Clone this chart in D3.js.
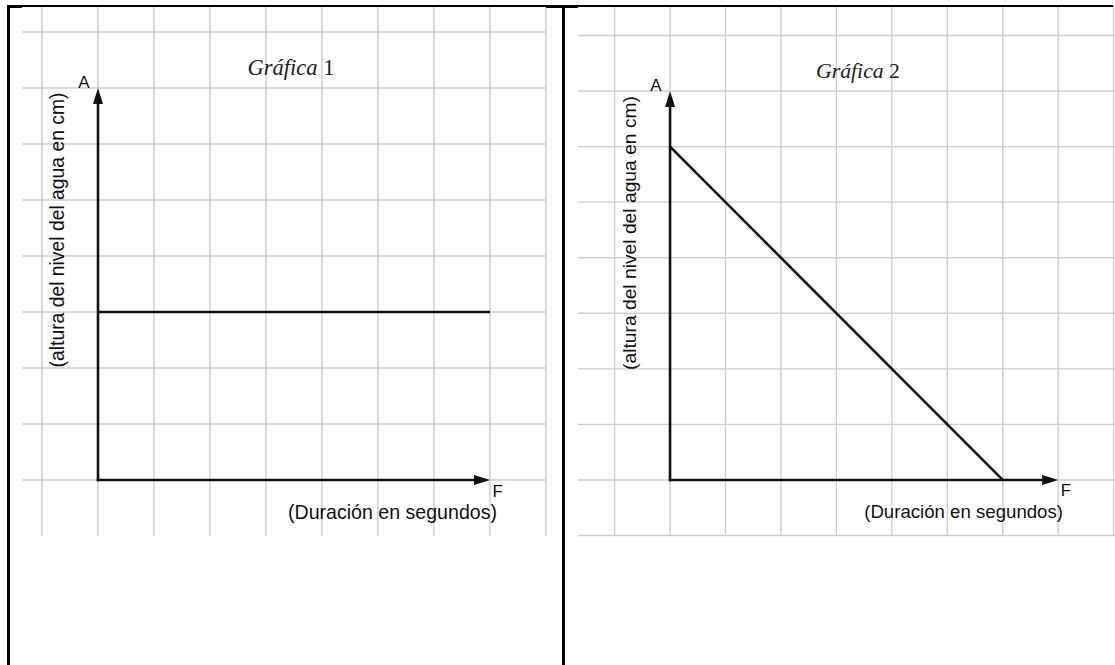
<!DOCTYPE html>
<html>
<head>
<meta charset="utf-8">
<script src="https://cdn.jsdelivr.net/npm/d3@7"></script>
<style>
  html, body { margin: 0; padding: 0; background: #fff; }
  svg { display: block; }
</style>
</head>
<body>
<svg id="chart" width="1115" height="665"></svg>
<script>
// Titles of the two graphs
const titles = ["Gráfica", "Gráfica"];
const titleNumbers = ["1", "2"];
// Axis letters and captions
const yLetter = "A";
const xLetter = "F";
const yCaption = "(altura del nivel del agua en cm)";
const xCaption = "(Duración en segundos)";
// Grid units along each axis (one cell each)
const gridValues = [-1, 0, 1, 2, 3, 4, 5, 6, 7, 8];
// Extent of each arrowed axis in grid units
const axisMax = 7;
// Graph 1: water level stays constant
const g1Time = [0, 7];
const g1Level = [3, 3];
// Graph 2: water level drops steadily to zero
const g2Time = [0, 6];
const g2Level = [6, 0];

const svg = d3.select("#chart");

// Layout of each panel
const panels = [
  {
    title: titles[0], num: titleNumbers[0],
    x: d3.scaleLinear().domain([-1, 8]).range([42, 546]),
    y: d3.scaleLinear().domain([-1, 8]).range([536, 32]),
    hGrid: gridValues.filter(v => v >= 0), hx0: 22, hx1: 546,
    vy0: 7, vy1: 536,
    time: g1Time, level: g1Level,
    titleX: 291, titleY: 75, titleW: 87,
    capEnd: 497, capY: 519, capW: 209,
    yCapX: 64, yCapMid: 230, yCapW: 275
  },
  {
    title: titles[1], num: titleNumbers[1],
    x: d3.scaleLinear().domain([-1, 8]).range([614.6, 1113.6]),
    y: d3.scaleLinear().domain([-1, 8]).range([535.5, 35.5]),
    hGrid: gridValues, hx0: 578, hx1: 1115,
    vy0: 6, vy1: 535.5,
    time: g2Time, level: g2Level,
    titleX: 858, titleY: 78, titleW: 84,
    capEnd: 1063, capY: 518, capW: 199,
    yCapX: 636, yCapMid: 233, yCapW: 274
  }
];

const sans = "'Liberation Sans', Arial, sans-serif";
const serif = "'Liberation Serif', 'DejaVu Serif', serif";

// scale a text's font size so that it spans the given width
function fitWidth(sel, width) {
  const base = +sel.attr("font-size");
  const w = sel.node().getComputedTextLength();
  if (w > 0) sel.attr("font-size", base * width / w);
  return sel;
}

panels.forEach(p => {
  const g = svg.append("g");

  // light grid
  g.append("g").selectAll("line").data(p.hGrid).join("line")
    .attr("x1", p.hx0).attr("x2", p.hx1)
    .attr("y1", d => p.y(d)).attr("y2", d => p.y(d))
    .attr("stroke", "#cfcfcf").attr("stroke-width", 1.4);
  g.append("g").selectAll("line").data(gridValues).join("line")
    .attr("x1", d => p.x(d)).attr("x2", d => p.x(d))
    .attr("y1", p.vy0).attr("y2", p.vy1)
    .attr("stroke", "#cfcfcf").attr("stroke-width", 1.4);

  const ox = p.x(0), oy = p.y(0);
  const tipY = p.y(axisMax), tipX = p.x(axisMax);
  const aLen = 16, aHalf = 5;

  // axes with arrow heads
  g.append("line").attr("x1", ox).attr("x2", ox).attr("y1", oy + 1.2).attr("y2", tipY + aLen - 2)
    .attr("stroke", "#111").attr("stroke-width", 2.6);
  g.append("path")
    .attr("d", `M${ox},${tipY} L${ox - aHalf},${tipY + aLen} L${ox + aHalf},${tipY + aLen} Z`)
    .attr("fill", "#111");
  g.append("line").attr("x1", ox - 1.2).attr("x2", tipX - aLen + 2).attr("y1", oy).attr("y2", oy)
    .attr("stroke", "#111").attr("stroke-width", 2.6);
  g.append("path")
    .attr("d", `M${tipX},${oy} L${tipX - aLen},${oy - aHalf} L${tipX - aLen},${oy + aHalf} Z`)
    .attr("fill", "#111");

  // data line
  const pts = p.time.map((t, i) => [p.x(t), p.y(p.level[i])]);
  g.append("path")
    .attr("d", d3.line()(pts))
    .attr("fill", "none").attr("stroke", "#111").attr("stroke-width", 2.6);

  // axis letters
  g.append("text").attr("x", ox - 14).attr("y", tipY - 0.5)
    .attr("text-anchor", "middle").attr("font-family", sans).attr("font-size", 17)
    .attr("fill", "#111").text(yLetter);
  g.append("text").attr("x", tipX + 2.5).attr("y", oy + 16.5)
    .attr("font-family", sans).attr("font-size", 17)
    .attr("fill", "#111").text(xLetter);

  // captions
  fitWidth(g.append("text").attr("x", p.capEnd).attr("y", p.capY)
    .attr("text-anchor", "end").attr("font-family", sans).attr("font-size", 16)
    .attr("fill", "#111").text(xCaption), p.capW);
  fitWidth(g.append("text")
    .attr("transform", `translate(${p.yCapX},${p.yCapMid}) rotate(-90)`)
    .attr("text-anchor", "middle").attr("font-family", sans).attr("font-size", 16)
    .attr("fill", "#111").text(yCaption), p.yCapW);

  // title
  const t = g.append("text").attr("x", p.titleX).attr("y", p.titleY)
    .attr("text-anchor", "middle").attr("font-family", serif).attr("font-size", 19)
    .attr("fill", "#222");
  t.append("tspan").attr("font-style", "italic").text(p.title);
  t.append("tspan").text(" " + p.num);
  fitWidth(t, p.titleW);
});

// table borders
const border = svg.append("g").attr("stroke", "#000");
border.append("line").attr("x1", 7).attr("x2", 1113).attr("y1", 6).attr("y2", 6).attr("stroke-width", 2);
border.append("line").attr("x1", 7).attr("x2", 22).attr("y1", 6.5).attr("y2", 6.5).attr("stroke-width", 3);
border.append("line").attr("x1", 546).attr("x2", 578).attr("y1", 6.5).attr("y2", 6.5).attr("stroke-width", 3);
border.append("line").attr("x1", 8.5).attr("x2", 8.5).attr("y1", 5).attr("y2", 665).attr("stroke-width", 3);
border.append("line").attr("x1", 563.5).attr("x2", 563.5).attr("y1", 5).attr("y2", 665).attr("stroke-width", 3);
</script>
</body>
</html>
